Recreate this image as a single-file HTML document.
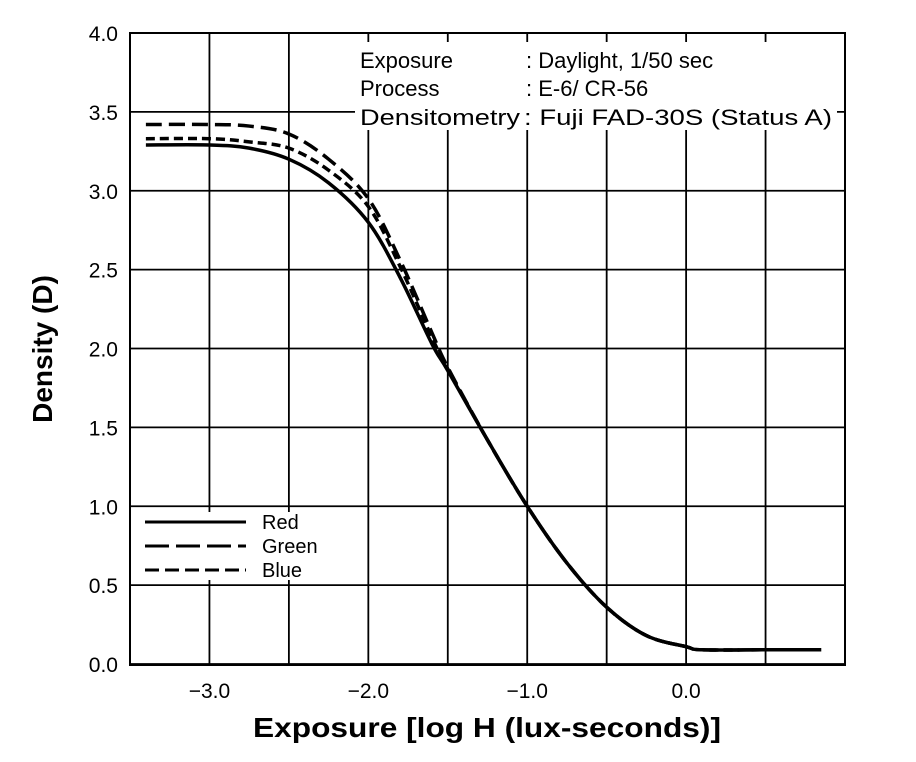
<!DOCTYPE html>
<html><head><meta charset="utf-8"><style>
html,body{margin:0;padding:0;background:#fff;}
svg{display:block;font-family:"Liberation Sans",sans-serif;}
</style></head><body>
<svg id="chart" width="916" height="762" viewBox="0 0 916 762" xmlns="http://www.w3.org/2000/svg">
<g id="grid"></g>
<g id="curves"></g>
<rect x="355" y="42" width="482" height="88" fill="#fff"/>
<g font-size="22" fill="#000">
<text x="360" y="68">Exposure</text>
<text x="526" y="68">: Daylight, 1/50 sec</text>
<text x="360" y="96">Process</text>
<text x="526" y="96">: E-6/ CR-56</text>
<text x="360" y="125" textLength="160" lengthAdjust="spacingAndGlyphs">Densitometry</text>
<text x="524" y="125" textLength="308" lengthAdjust="spacingAndGlyphs">: Fuji FAD-30S (Status A)</text>
</g>
<rect id="frame" x="130" y="33" width="715" height="632" fill="none" stroke="#000" stroke-width="2"/>
<g id="legend"></g>
<g id="ticks" font-size="21" fill="#000"></g>
<text x="487" y="737" text-anchor="middle" font-size="28" font-weight="bold" textLength="468" lengthAdjust="spacingAndGlyphs">Exposure [log H (lux-seconds)]</text>
<text transform="translate(52,349) rotate(-90)" text-anchor="middle" font-size="28" font-weight="bold">Density (D)</text>
</svg>
<script>
const xTicks = [-3.0, -2.0, -1.0, 0.0];
const xTickLabels = ["\u22123.0", "\u22122.0", "\u22121.0", "0.0"];
const xGrid = [-3.0, -2.5, -2.0, -1.5, -1.0, -0.5, 0.0, 0.5];
const yTicks = [0, 0.5, 1.0, 1.5, 2.0, 2.5, 3.0, 3.5, 4.0];
const yTickLabels = ["0.0", "0.5", "1.0", "1.5", "2.0", "2.5", "3.0", "3.5", "4.0"];
const logH = [-3.4, -3.0, -2.75, -2.5, -2.25, -2.0, -1.8, -1.6, -1.5, -1.25, -1.0, -0.75, -0.5, -0.25, 0.0, 0.1, 0.5, 0.85];
const redD = [3.29, 3.29, 3.27, 3.2, 3.05, 2.8, 2.45, 2.03, 1.86, 1.42, 1.0, 0.64, 0.36, 0.18, 0.11, 0.09, 0.09, 0.09];
const greenD = [3.42, 3.42, 3.41, 3.36, 3.2, 2.95, 2.56, 2.1, 1.88, 1.42, 1.0, 0.64, 0.36, 0.18, 0.11, 0.09, 0.09, 0.09];
const blueD = [3.33, 3.33, 3.31, 3.27, 3.13, 2.9, 2.52, 2.07, 1.87, 1.42, 1.0, 0.64, 0.36, 0.18, 0.11, 0.09, 0.09, 0.09];
const seriesNames = ["Red", "Green", "Blue"];

const NS = "http://www.w3.org/2000/svg";
const X0 = 130, X1 = 845, Y0 = 664, Y1 = 33;
function sx(v){ return X0 + (v + 3.5) / 4.5 * (X1 - X0); }
function sy(v){ return Y0 - v / 4.0 * (Y0 - Y1); }
function mk(tag, attrs, parent){
  const e = document.createElementNS(NS, tag);
  for (const k in attrs) e.setAttribute(k, attrs[k]);
  parent.appendChild(e);
  return e;
}
const grid = document.getElementById('grid');
xGrid.forEach(v => {
  const l = mk('line', {x1: sx(v), x2: sx(v), y1: Y1, y2: Y0, stroke: '#000', 'stroke-width': 1.8}, grid);
  
  
});
yTicks.forEach(v => {
  const l = mk('line', {x1: X0, x2: X1, y1: sy(v), y2: sy(v), stroke: '#000', 'stroke-width': 1.8}, grid);
  
  
});
const curves = document.getElementById('curves');
const styles = [
  {d: redD, dash: 'none'},
  {d: greenD, dash: '16 7'},
  {d: blueD, dash: '9 5'}
];
function pathFor(arr){
  let p = '';
  for (let i = 0; i < logH.length; i++){
    const x = sx(logH[i]), y = sy(arr[i]);
    if (i === 0) p += 'M' + x + ',' + y;
    else {
      const x0 = sx(logH[i-1]), y0 = sy(arr[i-1]);
      const xm = (x0 + x) / 2;
      // smooth via Catmull-Rom
      const xp = i > 1 ? sx(logH[i-2]) : x0, yp = i > 1 ? sy(arr[i-2]) : y0;
      const xn = i < logH.length-1 ? sx(logH[i+1]) : x, yn = i < logH.length-1 ? sy(arr[i+1]) : y;
      const c1x = x0 + (x - xp)/6, c1y = y0 + (y - yp)/6;
      const c2x = x - (xn - x0)/6, c2y = y - (yn - y0)/6;
      p += ' C' + c1x + ',' + c1y + ' ' + c2x + ',' + c2y + ' ' + x + ',' + y;
    }
  }
  return p;
}
styles.forEach((s, i) => {
  const p = mk('path', {d: pathFor(s.d), fill: 'none', stroke: '#000', 'stroke-width': 3.5, 'stroke-dasharray': s.dash}, curves);
  
  
});
const legend = document.getElementById('legend');
const lbg = mk('rect', {x: 140, y: 512, width: 190, height: 68, fill: '#fff'}, legend);


styles.forEach((s, i) => {
  const y = 522 + i * 24;
  const l = mk('line', {x1: 145, x2: 246, y1: y, y2: y, stroke: '#000', 'stroke-width': 3, 'stroke-dasharray': s.dash === 'none' ? 'none' : (i === 1 ? '24 7' : '14 6')}, legend);
  
  
  const t = mk('text', {x: 262, y: y + 7, 'font-size': 20}, legend);
  t.textContent = seriesNames[i];
  
  
});
const ticks = document.getElementById('ticks');
xTicks.forEach((v, i) => {
  const t = mk('text', {x: sx(v), y: 698, 'text-anchor': 'middle'}, ticks);
  t.textContent = xTickLabels[i];
  
  
});
yTicks.forEach((v, i) => {
  const t = mk('text', {x: 118, y: sy(v) + 8, 'text-anchor': 'end'}, ticks);
  t.textContent = yTickLabels[i];
  
  
});
</script>
</body></html>
